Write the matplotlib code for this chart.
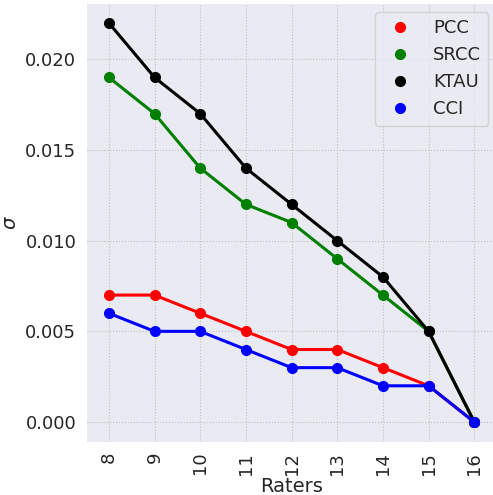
import matplotlib
matplotlib.use("Agg")
import matplotlib.pyplot as plt
import seaborn as sns
from matplotlib.lines import Line2D

raters = [8, 9, 10, 11, 12, 13, 14, 15, 16]
pcc = [0.007, 0.007, 0.006, 0.005, 0.004, 0.004, 0.003, 0.002, 0.0]
srcc = [0.019, 0.017, 0.014, 0.012, 0.011, 0.009, 0.007, 0.005, 0.0]
ktau = [0.022, 0.019, 0.017, 0.014, 0.012, 0.010, 0.008, 0.005, 0.0]
cci = [0.006, 0.005, 0.005, 0.004, 0.003, 0.003, 0.002, 0.002, 0.0]

series = [("PCC", pcc, "red"), ("SRCC", srcc, "green"),
          ("KTAU", ktau, "black"), ("CCI", cci, "blue")]

sns.set_style("darkgrid", {"grid.linestyle": ":", "grid.color": "#c0c0c0"})

fig = plt.figure(figsize=(4.93, 4.95), dpi=100)
ax = fig.add_axes([0.1744, 0.107, 0.834, 0.887])

pos = list(range(len(raters)))
handles = []
for name, vals, col in series:
    ax.plot(pos, vals, color=col, linewidth=2.2, marker="o", markersize=7)
    handles.append(Line2D([], [], linestyle="none", marker="o", color=col,
                          markersize=7, label=name))

ax.set_xlim(-0.5, len(raters) - 0.5)
ax.set_ylim(-0.0011, 0.0231)
ax.set_xticks(pos)
ax.set_xticklabels([str(r) for r in raters], rotation=90)
ax.tick_params(labelsize=13)
ax.set_xlabel("Raters", fontsize=14, labelpad=2)
ax.set_ylabel(r"$\sigma$", fontsize=14)

ax.legend(handles=handles, loc="upper right", fontsize=13, frameon=True)

fig.savefig("out.png", dpi=100)
